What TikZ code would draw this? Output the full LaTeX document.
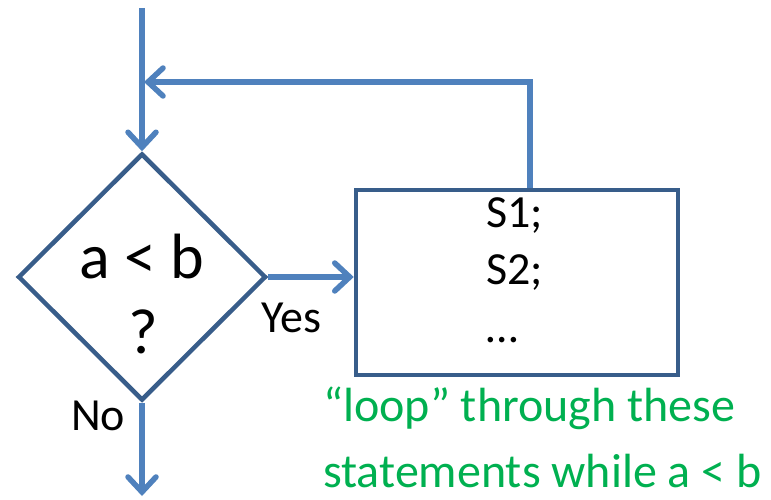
\documentclass[tikz,border=0pt]{standalone}
\usepackage{fontspec}
\setmainfont{Carlito}
\usetikzlibrary{arrows.meta,shapes.geometric}
\definecolor{conn}{HTML}{4F81BD}
\definecolor{bord}{HTML}{385D8A}
\definecolor{note}{HTML}{00B050}
\tikzset{
  flow/.style={draw=conn,line width=5.5pt,-{Straight Barb[length=15pt,width=28pt,line cap=round]}},
  decision/.style={shape=diamond,draw=bord,line width=4.5pt,inner sep=0pt,minimum width=248pt,minimum height=247pt},
  block/.style={shape=rectangle,draw=bord,line width=4.5pt,inner sep=0pt,minimum width=322pt,minimum height=185pt},
  txt/.style={font=\fontsize{46}{55}\selectfont,inner sep=0pt},
  bigtxt/.style={font=\fontsize{64}{76}\selectfont,inner sep=0pt},
  notetxt/.style={font=\fontsize{48}{58}\selectfont,text=note,inner sep=0pt}
}
\begin{document}
\begin{tikzpicture}[x=1pt,y=-1pt]
\useasboundingbox (0,0) rectangle (771,500);
\node[decision] (dec) at (142,277) {};
\node[block] (blk) at (517,282.5) {};
\node[bigtxt,anchor=base] (cond) at (142,278) {a < b};
\node[bigtxt,anchor=base] (q) at (143,353) {?};
\node[txt,anchor=base west] (s1) at (486,227) {S1;};
\node[txt,anchor=base west] (s2) at (486,284) {S2;};
\node[txt,anchor=base west] (dots) at (486,342) {…};
\node[txt,anchor=base west] (yes) at (261,332) {Yes};
\node[txt,anchor=base west] (no) at (71,430) {No};
\node[notetxt,anchor=base west] (note1) at (323,421) {“loop” through these};
\node[notetxt,anchor=base west] (note2) at (323,487) {statements while a < b};
\coordinate (top) at (142,8);
\coordinate (join) at (144,82);
\coordinate (corner) at (530,82);
\coordinate (out) at (142,496);
\draw[flow] (top) -- (dec.north);
\draw[flow] (blk.north -| corner) -- (corner) -- (join);
\draw[flow] (dec.east) -- (dec.east -| blk.west);
\draw[flow] (dec.south) -- (out);
\end{tikzpicture}
\end{document}
